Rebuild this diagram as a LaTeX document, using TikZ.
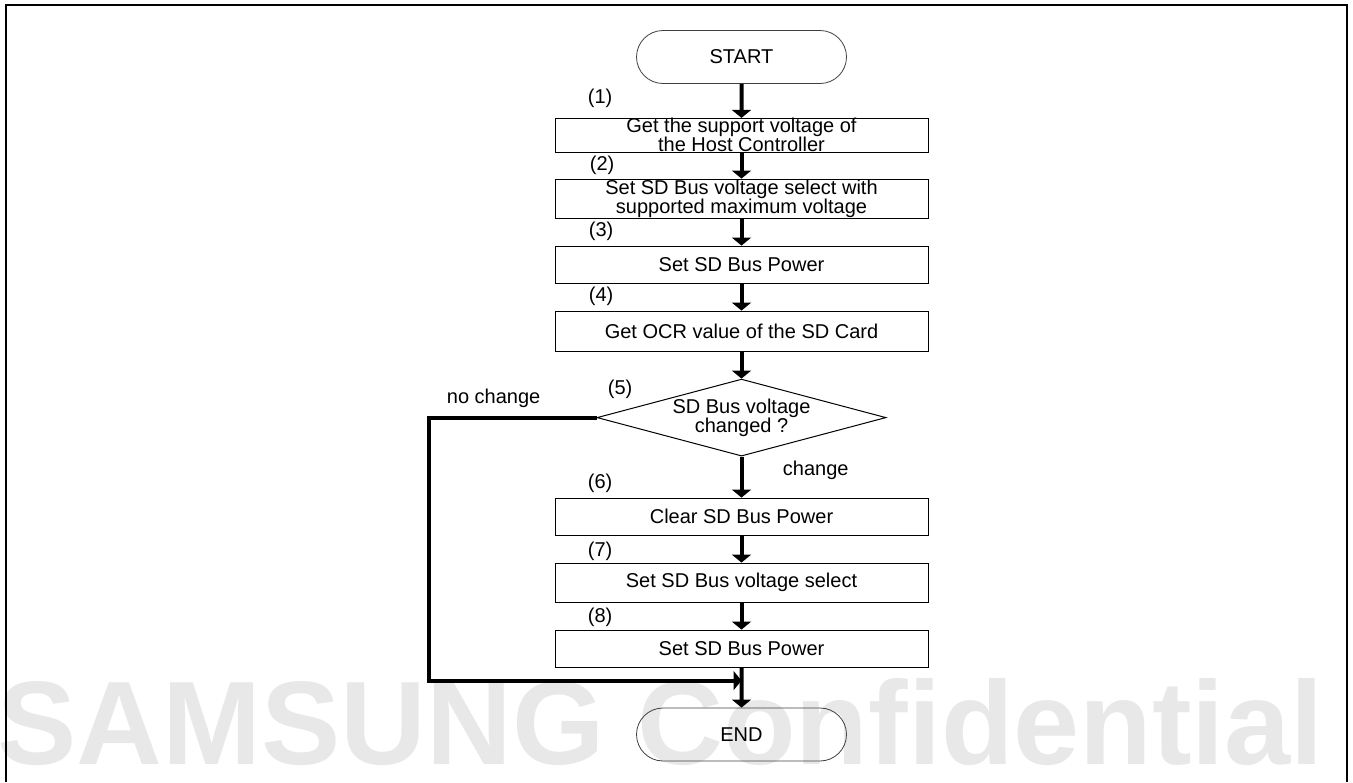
\documentclass[tikz,border=0pt]{standalone}
\usepackage{fontspec}
\setmainfont{Liberation Sans}
\usetikzlibrary{positioning,arrows.meta,shapes.geometric,shapes.misc}
\definecolor{markgray}{gray}{0.91}

\begin{document}
\begin{tikzpicture}[x=0.5pt,y=-0.5pt,node distance=13.5pt,
term/.style={draw=black!75,line width=0.4pt,rounded rectangle,minimum width=105pt,minimum height=26.5pt,inner sep=0pt,font=\fontsize{10}{9.5}\selectfont},
box/.style={draw,line width=0.5pt,minimum width=186.5pt,minimum height=18.5pt,inner sep=0pt,align=center,font=\fontsize{10}{9.5}\selectfont},
dec/.style={draw,line width=0.5pt,diamond,aspect=3.75,minimum width=144.5pt,minimum height=38.5pt,inner sep=0pt,align=center,font=\fontsize{10}{9.5}\selectfont},
num/.style={inner sep=0pt,font=\fontsize{10}{9.5}\selectfont},
lbl/.style={inner sep=0pt,font=\fontsize{10}{9.5}\selectfont},
arr/.style={-{Triangle[width=9.5pt,length=4pt]},line width=2pt}]
\useasboundingbox (0,0) rectangle (1353,782);
% watermark and frame
\node[anchor=base west,inner sep=0pt,text=markgray,font=\fontsize{59.4}{60}\selectfont\bfseries] (mark) at (-3,764) {SAMSUNG Confidential};
\draw[line width=1pt] (6,782) -- (6,5) -- (1347,5) -- (1347,782);
% flow
\node[term] (start) at (741.5,57) {START};
\node[box,below=17pt of start,minimum height=16pt] (getv) {Get the support voltage of\\the Host Controller};
\node[box,below=13pt of getv,minimum height=19.5pt] (setmax) {Set SD Bus voltage select with\\supported maximum voltage};
\node[box,below=of setmax] (pwr1) {Set SD Bus Power};
\node[box,below=of pwr1,minimum height=20pt] (ocr) {Get OCR value of the SD Card};
\node[dec,below=of ocr] (chk) {SD Bus voltage\\changed ?};
\node[box,below=20.5pt of chk] (clr) {Clear SD Bus Power};
\node[box,below=of clr,minimum height=19.5pt] (setv) {Set SD Bus voltage select};
\node[box,below=of setv] (pwr2) {Set SD Bus Power};
\node[term,below=20pt of pwr2] (stop) {END};
% step numbers
\node[num,above right=5pt and 16.5pt of getv.north west] (lab1) {(1)};
\node[num,above right=2pt and 17.5pt of setmax.north west] (lab2) {(2)};
\node[num,above right=2.5pt and 17pt of pwr1.north west] (lab3) {(3)};
\node[num,above right=2.5pt and 17pt of ocr.north west] (lab4) {(4)};
\node[num,above right=9.5pt and 5.5pt of chk.west] (lab5) {(5)};
\node[num,above right=2.5pt and 16.5pt of clr.north west] (lab6) {(6)};
\node[num,above right=1pt and 16.5pt of setv.north west] (lab7) {(7)};
\node[num,above right=1.5pt and 16.5pt of pwr2.north west] (lab8) {(8)};
% connectors
\coordinate[left=84pt of chk.west] (nobend);
\coordinate[below=6.5pt of pwr2.south] (join);
\draw[arr] (start) -- (getv);
\draw[arr] (getv) -- (setmax);
\draw[arr] (setmax) -- (pwr1);
\draw[arr] (pwr1) -- (ocr);
\draw[arr] (ocr) -- (chk);
\draw[arr] (chk) -- (clr);
\draw[arr] (clr) -- (setv);
\draw[arr] (setv) -- (pwr2);
\draw[arr] (pwr2) -- (stop);
\draw[arr] (chk.west) -- (nobend) |- (join);
\node[lbl,above right=5pt and 9pt of nobend] (nochg) {no change};
\node[lbl,below right=2pt and 20.5pt of chk.south] (chg) {change};
\end{tikzpicture}
\end{document}
